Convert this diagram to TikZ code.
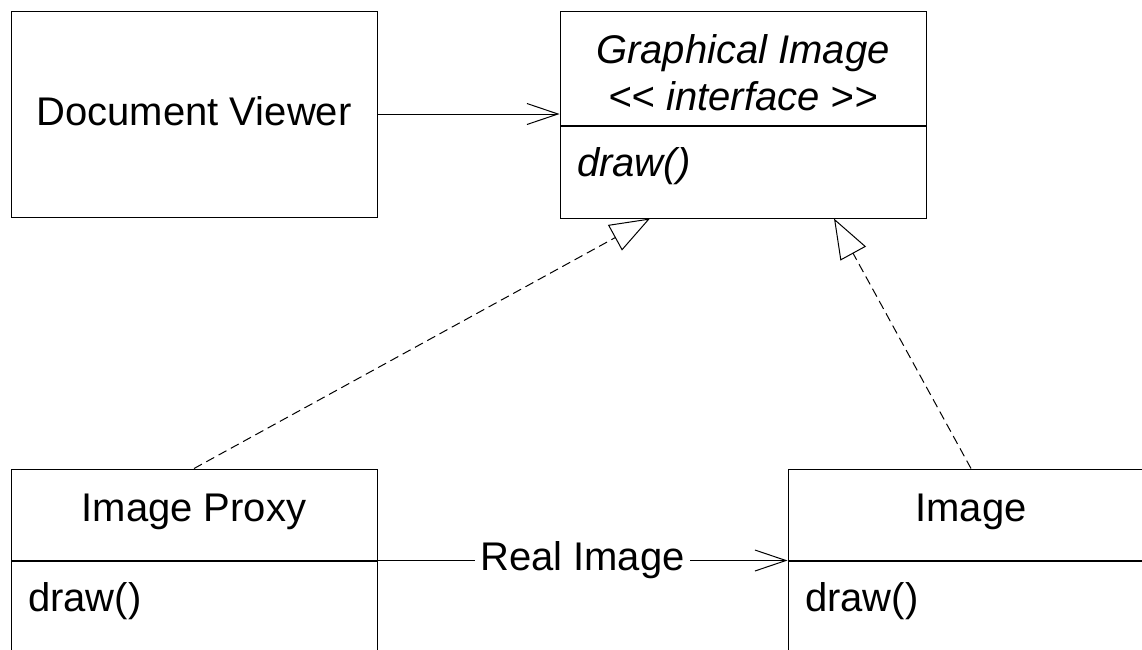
\documentclass[tikz,border=0pt]{standalone}
\usepackage{fontspec}
\setmainfont{Liberation Sans}
\usetikzlibrary{arrows.meta}

\tikzset{
	classbox/.style={draw, line width=1pt, minimum width=366pt, inner sep=0pt},
	headbox/.style={classbox, minimum height=91pt, text height=30pt, text depth=17pt},
	opsbox/.style={classbox, minimum height=92pt, text width=332pt, align=left, inner xsep=17pt, text height=29pt, text depth=21pt},
	assoc/.style={line width=1pt, -{Straight Barb[length=31pt, width=21pt]}},
	realize/.style={line width=1pt, dash pattern=on 9pt off 5pt, -{Triangle[open, length=40pt, width=29pt]}},
}

\begin{document}
\begin{tikzpicture}[x=1pt, y=-1pt, font=\fontsize{40}{47}\selectfont]
		%%%%% FRAME %%%%%
		\useasboundingbox (0, 0) rectangle (1142, 649);
		\clip (0, 0) rectangle (1142, 649);
		
		%%%%% CLASSES %%%%%
		\node[classbox, minimum height=206pt, text height=30pt, text depth=8pt] (viewer) at (194, 114) {Document Viewer};
		
		\node[classbox, minimum height=114pt, align=center, text height=84pt, text depth=0pt, font=\fontsize{40}{47}\selectfont\itshape] (ifacehead) at (743, 68) {Graphical Image\\<{}< interface >{}>};
		\node[opsbox, anchor=north, font=\fontsize{40}{47}\selectfont\itshape] (ifaceops) at (ifacehead.south) {draw()};
		
		\node[headbox] (proxyhead) at (194, 514.5) {Image Proxy};
		\node[opsbox, anchor=north] (proxyops) at (proxyhead.south) {draw()};
		
		\node[headbox] (imghead) at (971, 514.5) {Image};
		\node[opsbox, anchor=north] (imgops) at (imghead.south) {draw()};
		
		%%%%% RELATIONS %%%%%
		\draw[assoc] (viewer.east) -- (viewer.east -| ifacehead.west);
		\draw[assoc] (proxyops.north east) -- node[fill=white, inner xsep=5pt, inner ysep=2pt] (reallabel) {Real Image} (imgops.north west);
		
		\draw[realize] (proxyhead.north) -- ([xshift=-93pt]ifaceops.south);
		\draw[realize] (imghead.north) -- ([xshift=91pt]ifaceops.south);
\end{tikzpicture}
\end{document}
